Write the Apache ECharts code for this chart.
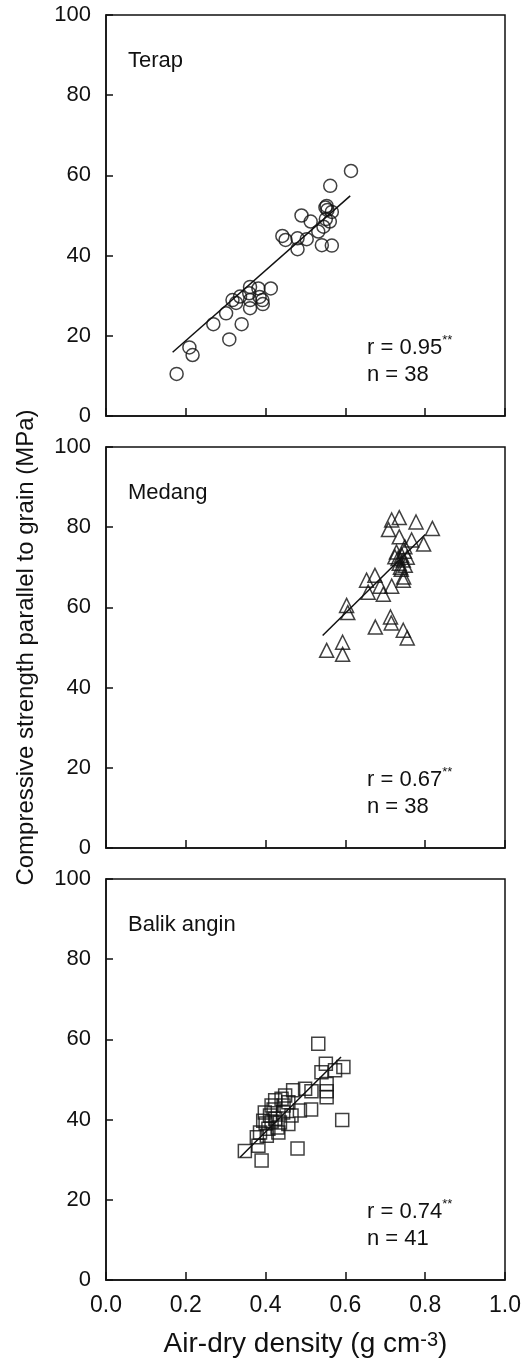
<!DOCTYPE html>
<html>

<head>
    <meta charset="utf-8">
    <script src="https://cdn.jsdelivr.net/npm/echarts@6/dist/echarts.min.js"></script>
    <title>Compressive strength vs density</title>
    <style>
        body { margin: 0; background: #fff; }
    </style>
</head>

<body>
    <div id="main" style="width:530px;height:1361px;"></div>
    <script type="text/javascript">
        // values, [density, strength]
        var terapPoints = [
            [0.614, 61.1], [0.562, 57.4], [0.553, 52.4], [0.555, 51.4], [0.566, 50.9], [0.490, 50.0],
            [0.513, 48.5], [0.551, 49.1], [0.561, 48.5], [0.545, 47.2], [0.532, 46.0], [0.442, 44.9],
            [0.450, 43.9], [0.480, 44.3], [0.503, 44.1], [0.480, 41.6], [0.541, 42.6], [0.566, 42.5],
            [0.361, 32.2], [0.382, 31.8], [0.413, 31.8], [0.317, 28.9], [0.326, 28.2], [0.359, 30.6],
            [0.361, 28.9], [0.392, 28.9], [0.393, 27.9], [0.361, 26.9], [0.301, 25.6], [0.269, 22.9],
            [0.340, 22.9], [0.309, 19.1], [0.209, 17.1], [0.217, 15.2], [0.177, 10.5], [0.336, 29.8],
            [0.550, 52.0], [0.385, 29.7]
        ];
        var medangPoints = [
            [0.553, 49.3], [0.593, 51.3], [0.593, 48.3], [0.603, 60.5], [0.606, 58.7], [0.675, 55.1],
            [0.713, 57.6], [0.715, 56.1], [0.745, 54.3], [0.755, 52.4],
            [0.653, 66.8], [0.674, 68.0], [0.657, 63.8], [0.687, 65.3], [0.695, 63.3], [0.716, 65.3],
            [0.716, 81.8], [0.735, 82.4], [0.777, 81.3], [0.708, 79.4], [0.818, 79.7], [0.735, 77.6],
            [0.766, 76.8], [0.796, 75.8], [0.749, 75.1],
            [0.741, 73.0], [0.724, 72.6], [0.745, 71.8], [0.735, 71.0], [0.750, 70.5], [0.740, 69.5],
            [0.746, 67.6], [0.745, 66.8], [0.728, 73.8], [0.755, 72.5], [0.738, 70.0], [0.732, 72.2],
            [0.748, 74.0]
        ];
        var balikPoints = [
            [0.532, 58.9], [0.551, 53.9], [0.595, 53.1], [0.540, 51.8], [0.574, 52.3], [0.553, 48.9],
            [0.553, 47.1], [0.553, 45.6], [0.499, 47.7], [0.515, 47.1], [0.469, 47.3], [0.592, 39.9],
            [0.449, 46.0],
            [0.348, 32.2], [0.390, 29.8], [0.382, 33.5], [0.480, 32.8], [0.514, 42.5], [0.486, 42.3],
            [0.386, 36.8], [0.394, 39.7], [0.398, 41.8], [0.415, 43.5], [0.424, 44.8], [0.440, 45.2],
            [0.457, 44.3], [0.424, 40.2], [0.436, 39.3], [0.407, 37.7], [0.432, 36.8], [0.457, 38.9],
            [0.465, 41.0], [0.411, 41.0], [0.444, 41.8], [0.378, 35.6], [0.403, 36.0],
            [0.420, 42.5], [0.430, 38.0], [0.400, 39.0], [0.445, 43.5], [0.415, 39.5]
        ];

        // regression lines, end points
        var terapLine = [[0.167, 15.9], [0.612, 54.9]];
        var medangLine = [[0.543, 53.0], [0.800, 78.2]];
        var balikLine = [[0.336, 30.6], [0.589, 55.6]];

        var speciesNames = ['Terap', 'Medang', 'Balik angin'];
        var rValues = ['0.95', '0.67', '0.74'];
        var nValues = ['38', '38', '41'];
        var xTicks = [0, 0.2, 0.4, 0.6, 0.8, 1.0];
        var yTicks = [0, 20, 40, 60, 80, 100];

        var panelTops = [15, 447, 879];
        var panelHeight = 401;
        var fontName = 'Liberation Sans, Arial, sans-serif';

        var myChart = echarts.init(document.getElementById('main'));

        var grids = [], xAxes = [], yAxes = [], series = [], graphics = [];
        var pointSets = [terapPoints, medangPoints, balikPoints];
        var lineSets = [terapLine, medangLine, balikLine];
        var symbols = ['circle', 'triangle', 'rect'];
        var symbolSizes = [13, 14, 13];

        for (var i = 0; i < 3; i++) {
            var isBottom = (i === 2);
            grids.push({
                left: 106,
                width: 399,
                top: panelTops[i],
                height: panelHeight,
                show: true,
                borderColor: '#111',
                borderWidth: 1.5,
                backgroundColor: 'transparent'
            });
            xAxes.push({
                type: 'value',
                gridIndex: i,
                min: xTicks[0],
                max: xTicks[xTicks.length - 1],
                interval: 0.2,
                axisLine: { lineStyle: { color: '#111', width: 1.5 } },
                axisTick: { inside: true, length: 8, lineStyle: { color: '#111', width: 1.5 } },
                splitLine: { show: false },
                axisLabel: {
                    show: isBottom,
                    color: '#111',
                    fontFamily: fontName,
                    fontSize: 23,
                    margin: 14,
                    formatter: function(v) { return v.toFixed(1); }
                },
                name: isBottom ? '{a|Air-dry density (g cm}{s|-3}{a|)}' : '',
                nameLocation: 'middle',
                nameGap: 50,
                nameTextStyle: {
                    rich: {
                        a: { fontSize: 28, fontFamily: fontName, color: '#111' },
                        s: { fontSize: 20, fontFamily: fontName, color: '#111', verticalAlign: 'top' }
                    }
                }
            });
            yAxes.push({
                type: 'value',
                gridIndex: i,
                min: yTicks[0],
                max: yTicks[yTicks.length - 1],
                interval: 20,
                axisLine: { lineStyle: { color: '#111', width: 1.5 } },
                axisTick: { inside: true, length: 7, lineStyle: { color: '#111', width: 1.5 } },
                splitLine: { show: false },
                axisLabel: { color: '#111', fontFamily: fontName, fontSize: 22, margin: 15 },
                name: i === 1 ? 'Compressive strength parallel to grain (MPa)' : '',
                nameLocation: 'middle',
                nameGap: 68,
                nameTextStyle: { fontSize: 24, fontFamily: fontName, color: '#111' }
            });
            series.push({
                type: 'scatter',
                xAxisIndex: i,
                yAxisIndex: i,
                symbol: symbols[i],
                symbolSize: symbolSizes[i],
                data: pointSets[i],
                itemStyle: { color: 'transparent', borderColor: '#111', borderWidth: 1.5 },
                z: 3
            });
            series.push({
                type: 'line',
                xAxisIndex: i,
                yAxisIndex: i,
                data: lineSets[i],
                showSymbol: false,
                lineStyle: { color: '#111', width: 1.5 },
                z: 2
            });

            graphics.push({
                type: 'text',
                left: 128,
                top: panelTops[i] + 35,
                style: { text: speciesNames[i], fontSize: 22, fontFamily: fontName, fill: '#111' }
            });
            graphics.push({
                type: 'text',
                left: 367,
                top: panelTops[i] + panelHeight - 82,
                style: {
                    text: 'r = ' + rValues[i] + '{s|**}\nn = ' + nValues[i],
                    fontSize: 22,
                    lineHeight: 27,
                    fontFamily: fontName,
                    fill: '#111',
                    rich: {
                        s: { fontSize: 13, fontFamily: fontName, fill: '#111', verticalAlign: 'top', lineHeight: 27 }
                    }
                }
            });
        }

        var option = {
            animation: false,
            backgroundColor: '#fff',
            grid: grids,
            xAxis: xAxes,
            yAxis: yAxes,
            series: series,
            graphic: graphics
        };

        myChart.setOption(option);
    </script>
</body>

</html>
